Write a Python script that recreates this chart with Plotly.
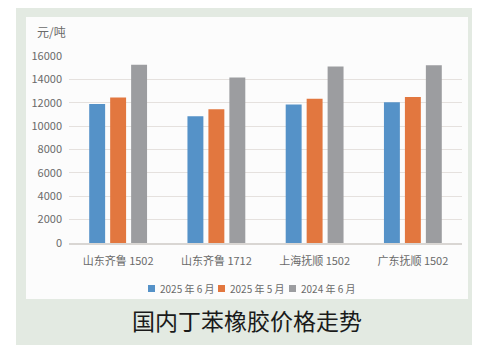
import plotly.graph_objects as go

categories = ["山东齐鲁 1502", "山东齐鲁 1712", "上海抚顺 1502", "广东抚顺 1502"]
series_names = ["2025 年 6 月", "2025 年 5 月", "2024 年 6 月"]
jun_2025 = [11900, 10850, 11850, 12050]
may_2025 = [12450, 11450, 12350, 12500]
jun_2024 = [15250, 14150, 15100, 15200]
y_ticks = [0, 2000, 4000, 6000, 8000, 10000, 12000, 14000, 16000]
y_tick_labels = [str(v) for v in y_ticks]
y_unit = "元/吨"
chart_title = "国内丁苯橡胶价格走势"

colors = ["#5592C8", "#E2773F", "#9C9DA0"]

fig = go.Figure()
for name, vals, c in zip(series_names, [jun_2025, may_2025, jun_2024], colors):
    fig.add_trace(go.Bar(x=categories, y=vals, name=name, showlegend=False,
                         marker=dict(color=c, line=dict(width=0))))

OFF = 8  # page offset of the figure
W, H = 480, 358
L, R, T, B = 69 - OFF, 462 - OFF, 56 - OFF, 243 - OFF


def px(x):
    return (x - OFF - L) / (R - L)


def py(y):
    return (B - (y - OFF)) / (B - T)


shapes = [
    dict(type="rect", xref="paper", yref="paper", x0=px(16), x1=px(478), y0=py(345), y1=py(6),
         fillcolor="#E3EAE2", line=dict(width=0), layer="below"),
    dict(type="rect", xref="paper", yref="paper", x0=px(26), x1=px(468), y0=py(299), y1=py(17),
         fillcolor="#FCFCFC", line=dict(width=0), layer="below"),
]

annotations = [
    dict(text=y_unit, xref="paper", yref="paper", x=px(51), y=py(32), showarrow=False,
         xanchor="center", yanchor="middle", font=dict(size=12, color="#6A6A6A")),
    dict(text=chart_title, xref="paper", yref="paper", x=px(247), y=py(320), showarrow=False,
         xanchor="center", yanchor="middle", font=dict(size=23, color="#1A1A1A")),
]

# custom legend: small squares + labels
legend_x = [148, 218, 289]
for name, c, lx in zip(series_names, colors, legend_x):
    shapes.append(dict(type="rect", xref="paper", yref="paper", x0=px(lx), x1=px(lx + 7),
                       y0=py(292), y1=py(285), fillcolor=c, line=dict(width=0)))
    annotations.append(dict(text=name, xref="paper", yref="paper", x=px(lx + 10), y=py(288.5),
                            showarrow=False, xanchor="left", yanchor="middle",
                            font=dict(size=10, color="#6A6A6A")))

fig.update_layout(
    width=W, height=H,
    margin=dict(l=L, r=W - R, t=T, b=H - B, pad=0, autoexpand=False),
    paper_bgcolor="white",
    plot_bgcolor="rgba(0,0,0,0)",
    shapes=shapes,
    annotations=annotations,
    barmode="group",
    bargap=0.36,
    bargroupgap=0.24,
    font=dict(family="Noto Sans CJK SC, sans-serif", color="#6A6A6A", size=11),
    showlegend=False,
    xaxis=dict(showgrid=False, showline=True, linecolor="#D9D6D3", linewidth=1.5,
               tickfont=dict(size=11, color="#6A6A6A"), ticks="", ticklabelstandoff=7),
    yaxis=dict(range=[0, 16000], tickvals=y_ticks, ticktext=y_tick_labels, showgrid=True,
               gridcolor="#E5E1DE", gridwidth=1.3, zeroline=False,
               tickfont=dict(size=11, color="#6A6A6A"), ticklabelstandoff=6),
)

fig.write_html("out.html")
